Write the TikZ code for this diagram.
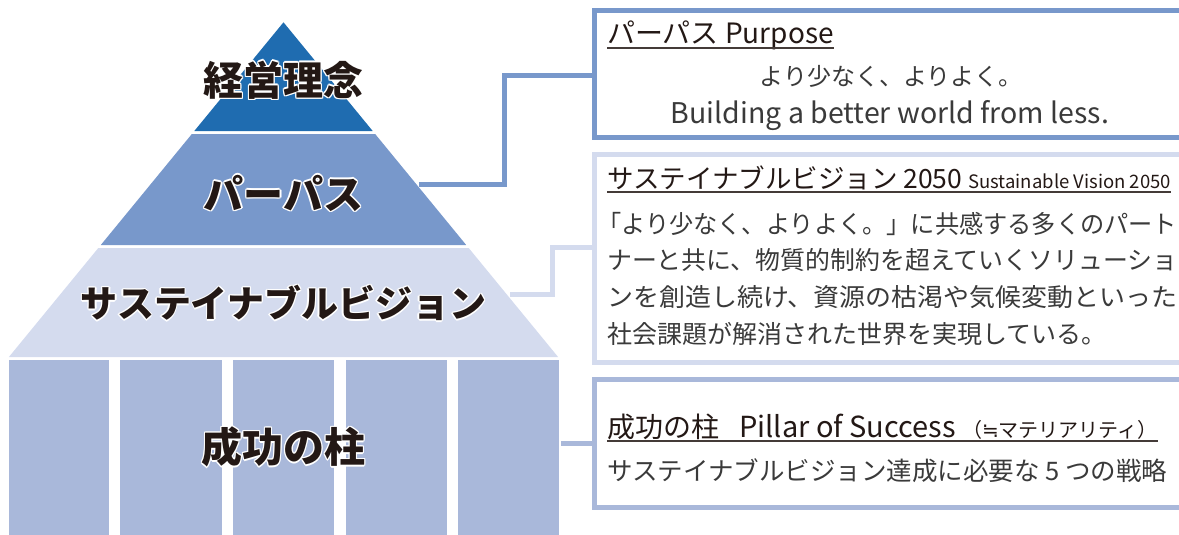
\documentclass[tikz,border=0pt]{standalone}
\usepackage{fontspec}
\setmainfont{Noto Sans CJK JP}
\newfontfamily\symfont{DejaVu Sans}
\usepackage{graphicx}
\usetikzlibrary{calc}
\definecolor{cTop}{HTML}{1F6CB0}
\definecolor{cPur}{HTML}{7898CB}
\definecolor{cVis}{HTML}{D4DBEE}
\definecolor{cPil}{HTML}{A9B8DA}
\definecolor{cTxt}{HTML}{231815}
\definecolor{cBody}{HTML}{3A3A3A}
\newcommand\pyrlab[5]{%
  \foreach \ang in {0,45,...,315}{\node[pyrtext,font=\bfseries\fontsize{#4}{#4}\selectfont,text=white] at ($(#2,#3)+(\ang:1.4pt)$) {#5};}
  \node[pyrtext,font=\bfseries\fontsize{#4}{#4}\selectfont] (#1) at (#2,#3) {#5};}
\begin{document}
\begin{tikzpicture}[x=1pt,y=-1pt,
  pyrtext/.style={text=cTxt, inner sep=0, anchor=center},
  infobox/.style={draw=#1, line width=5pt, inner sep=0, outer sep=0, anchor=north west},
  conn/.style={draw=#1, line width=5pt},
  title/.style={font=\fontsize{28pt}{30pt}\selectfont, text=cTxt, inner sep=0, anchor=base west},
  body/.style={font=\fontsize{25pt}{30pt}\selectfont, text=cBody, inner sep=0, anchor=base west},
  uline/.style={draw=cTxt!85, line width=1.3pt},
]
\useasboundingbox (0,0) rectangle (1179,535);

% pyramid tiers
\fill[cTop] (283.5,22.3) -- (372.7,131) -- (194.3,131) -- cycle;
\fill[cPur] (191.85,134) -- (375.15,134) -- (466.2,245) -- (100.8,245) -- cycle;
\fill[cVis] (98.3,248) -- (468.7,248) -- (558.1,357) -- (8.9,357) -- cycle;
\foreach \a/\b in {8.5/109,120/222,233/334,345.5/447,458/559}
  \fill[cPil] (\a,360) rectangle (\b,535);

% pyramid labels
\pyrlab{lTop}{283.5}{80}{40pt}{経営理念}
\pyrlab{lPur}{283.5}{193}{40pt}{パーパス}
\pyrlab{lVis}{283.5}{303}{37pt}{サステイナブルビジョン}
\pyrlab{lPil}{283.5}{447}{41pt}{成功の柱}

% info boxes (open to the right edge)
\node[infobox=cPur, minimum width=620pt, minimum height=127pt] (box1) at (594.5,10.5) {};
\node[infobox=cVis, minimum width=620pt, minimum height=207.5pt] (box2) at (594.5,154.5) {};
\node[infobox=cPil, minimum width=620pt, minimum height=128pt] (box3) at (594.5,379.5) {};

% connectors
\coordinate (purEdge) at (419,184.5);
\coordinate (purBend) at (504.5,75.5);
\coordinate (visEdge) at (510,294.5);
\coordinate (visBend) at (552.5,247.5);
\coordinate (pilEdge) at (561,443.5);
\draw[conn=cPur] (purEdge) -| (purBend) -- (purBend -| box1.west);
\draw[conn=cVis] (visEdge) -| (visBend) -- (visBend -| box2.west);
\draw[conn=cPil] (pilEdge) -- (pilEdge -| box3.west);

% box 1 text
\node[title] (t1) at (607,44) {パーパス Purpose};
\draw[uline] ([yshift=-4pt]t1.base west) -- ([yshift=-4pt]t1.base east);
\node[body, font=\fontsize{24pt}{28pt}\selectfont, anchor=base] (p1) at (891,86) {より少なく、よりよく。};
\node[body, font=\fontsize{28.5pt}{32pt}\selectfont, anchor=base] (p2) at (890,124) {Building a better world from less.};

% box 2 text
\node[title, font=\fontsize{26.5pt}{30pt}\selectfont] (t2) at (607,188) {サステイナブルビジョン 2050 {\fontsize{18.5pt}{20pt}\selectfont Sustainable Vision 2050}};
\draw[uline] ([yshift=-4pt]t2.base west) -- ([yshift=-4pt]t2.base east);
\node[body] (v1) at (597,233.5) {\resizebox{580pt}{\height}{「より少なく、よりよく。」に共感する多くのパート}};
\node[body] (v2) at (607,269.5) {\resizebox{570pt}{\height}{ナーと共に、物質的制約を超えていくソリューショ}};
\node[body] (v3) at (607,306.5) {\resizebox{570pt}{\height}{ンを創造し続け、資源の枯渇や気候変動といった}};
\node[body] (v4) at (607,343.5) {社会課題が解消された世界を実現している。};

% box 3 text
\node[title] (t3) at (607,437) {成功の柱\hspace{20pt}{\fontsize{29pt}{30pt}\selectfont Pillar of Success} {\fontsize{20pt}{22pt}\selectfont （{\symfont ≒}マテリアリティ）}};
\draw[uline] ([yshift=-4pt]t3.base west) -- ([yshift=-4pt]t3.base east);
\node[body, font=\fontsize{25.5pt}{30pt}\selectfont] (s1) at (607,480.5) {サステイナブルビジョン達成に必要な 5 つの戦略};
\end{tikzpicture}
\end{document}
